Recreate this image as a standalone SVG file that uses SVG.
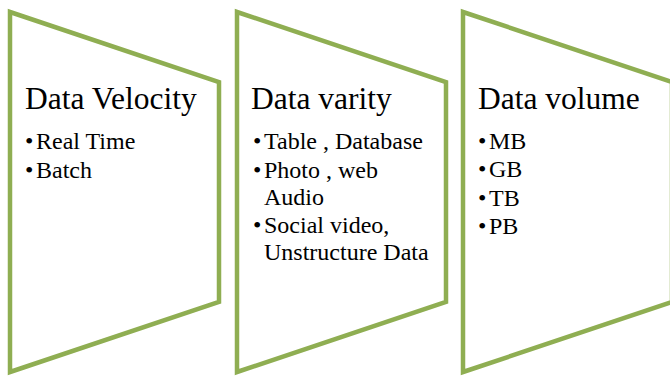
<svg xmlns="http://www.w3.org/2000/svg" width="670" height="376" viewBox="0 0 670 376">
<style>
.shape{fill:#FFFFFF;stroke:#8FAE52;stroke-width:4.5;stroke-linejoin:miter}
.title{font-family:"Liberation Serif","Times New Roman",serif;font-size:31.5px;fill:#000000}
.item{font-family:"Liberation Serif","Times New Roman",serif;font-size:24px;fill:#000000}
</style>
<rect x="0" y="0" width="670" height="376" fill="#FFFFFF"/>
<g id="velocity">
<polygon class="shape" points="10,12 219,82 219,302 10,372"/>
<text class="title" x="25" y="109">Data Velocity</text>
<text class="item" x="25" y="148.5">•</text>
<text class="item" x="36" y="148.5">Real Time</text>
<text class="item" x="25" y="177.5">•</text>
<text class="item" x="36" y="177.5">Batch</text>
</g>
<g id="varity">
<polygon class="shape" points="237,12 446,82 446,302 237,372"/>
<text class="title" x="251" y="109">Data varity</text>
<text class="item" x="253" y="148.5">•</text>
<text class="item" x="264" y="148.5">Table , Database</text>
<text class="item" x="253" y="177.5">•</text>
<text class="item" x="264" y="177.5">Photo , web</text>
<text class="item" x="264" y="204.5">Audio</text>
<text class="item" x="253" y="232.5">•</text>
<text class="item" x="264" y="232.5">Social video,</text>
<text class="item" x="264" y="259.5">Unstructure Data</text>
</g>
<g id="volume">
<polygon class="shape" points="463,12 672,82 672,302 463,372"/>
<text class="title" x="478" y="109">Data volume</text>
<text class="item" x="478" y="148.5">•</text>
<text class="item" x="489" y="148.5">MB</text>
<text class="item" x="478" y="177">•</text>
<text class="item" x="489" y="177">GB</text>
<text class="item" x="478" y="205.5">•</text>
<text class="item" x="489" y="205.5">TB</text>
<text class="item" x="478" y="234">•</text>
<text class="item" x="489" y="234">PB</text>
</g>
<g id="connectors"></g>
</svg>
